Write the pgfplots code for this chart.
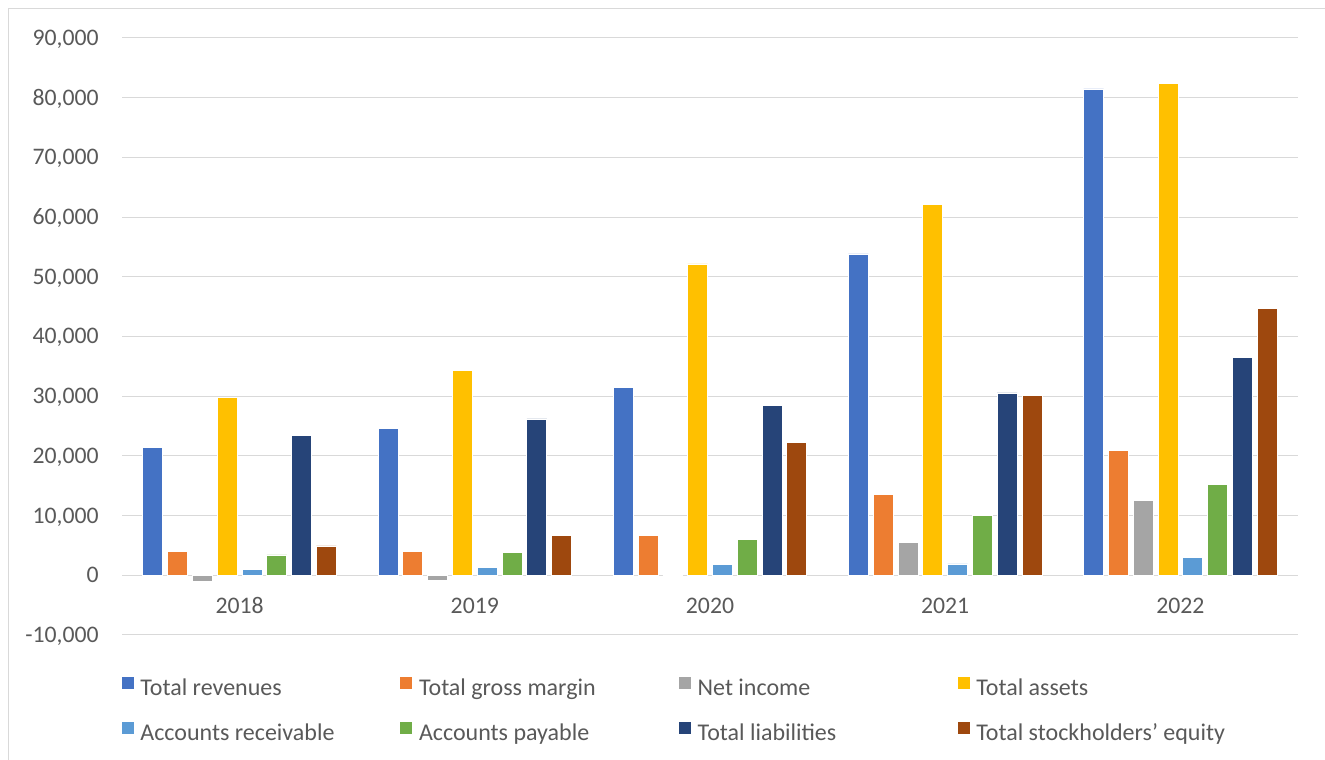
\documentclass[border=0pt]{standalone}
\usepackage{fontspec}
\setmainfont{Carlito}
\usepackage{pgfplots}
\pgfplotsset{compat=1.18}
\definecolor{cRev}{HTML}{4472C4}
\definecolor{cGM}{HTML}{ED7D31}
\definecolor{cNI}{HTML}{A5A5A5}
\definecolor{cTA}{HTML}{FFC000}
\definecolor{cAR}{HTML}{5B9BD5}
\definecolor{cAP}{HTML}{70AD47}
\definecolor{cTL}{HTML}{264478}
\definecolor{cEq}{HTML}{9E480E}
\definecolor{gridgray}{HTML}{D9D9D9}
\definecolor{tickgray}{HTML}{595959}
\begin{document}
\begin{tikzpicture}
\useasboundingbox (0,0) rectangle (993.75pt,570pt);
\draw[color=gridgray, line width=0.75pt] (6pt,-5pt) -- (6pt,563.25pt) -- (1000pt,563.25pt);
\begin{axis}[
  at={(91.5pt,93.75pt)}, anchor=south west,
  scale only axis, width=882pt, height=447.75pt,
  xmin=-0.5, xmax=4.5, ymin=-10000, ymax=90000,
  ytick={-10000,0,10000,20000,30000,40000,50000,60000,70000,80000,90000},
  xtick={0,1,2,3,4}, xticklabels={2018,2019,2020,2021,2022},
  ymajorgrids, grid style={draw=gridgray, line width=0.75pt},
  axis line style={draw=none}, major tick length=0pt,
  tick label style={font=\fontsize{17.8pt}{21pt}\selectfont, text=tickgray, inner sep=0pt, text height=11.25pt, text depth=0pt},
  yticklabel style={anchor=east, xshift=-17.25pt},
  xticklabel style={anchor=center, yshift=21.75pt},
  /pgf/number format/.cd, 1000 sep={,}, assume math mode=true, /pgfplots/.cd,
  scaled y ticks=false,
  ybar=3.6pt, bar width=15pt,
  legend columns=4,
  legend cell align=left,
  legend image code/.code={\fill[#1] (0pt,0pt) rectangle (9.75pt,9.75pt);},
  legend style={at={(-0.0011,-0.069)}, anchor=north west, draw=none, fill=none,
    inner sep=0pt, outer sep=0pt, row sep=15.5pt,
    font=\fontsize{18pt}{21pt}\selectfont, text=tickgray,
    nodes={inner sep=0pt, text height=12.5pt, text depth=3.5pt},
    /tikz/every odd column/.append style={column sep=4.5pt},
    /tikz/every even column/.append style={column sep=0pt}},
]
\addplot[fill=cRev, draw=white, line width=0.5pt] coordinates {(0,21461) (1,24578) (2,31536) (3,53823) (4,81462)};
\addlegendentry{\makebox[194.25pt][l]{Total revenues}}
\addplot[fill=cGM, draw=white, line width=0.5pt] coordinates {(0,4042) (1,4069) (2,6630) (3,13606) (4,20853)};
\addlegendentry{\makebox[194.25pt][l]{Total gross margin}}
\addplot[fill=cNI, draw=white, line width=0.5pt] coordinates {(0,-1063) (1,-775) (2,0) (3,5519) (4,12556)};
\addlegendentry{\makebox[194.25pt][l]{Net income}}
\addplot[fill=cTA, draw=white, line width=0.5pt] coordinates {(0,29740) (1,34309) (2,52148) (3,62131) (4,82338)};
\addlegendentry{Total assets}
\addplot[fill=cAR, draw=white, line width=0.5pt] coordinates {(0,949) (1,1324) (2,1886) (3,1913) (4,2952)};
\addlegendentry{Accounts receivable}
\addplot[fill=cAP, draw=white, line width=0.5pt] coordinates {(0,3405) (1,3771) (2,6051) (3,10025) (4,15255)};
\addlegendentry{Accounts payable}
\addplot[fill=cTL, draw=white, line width=0.5pt] coordinates {(0,23427) (1,26199) (2,28418) (3,30548) (4,36440)};
\addlegendentry{Total liabilities}
\addplot[fill=cEq, draw=white, line width=0.5pt] coordinates {(0,4923) (1,6618) (2,22225) (3,30189) (4,44704)};
\addlegendentry{Total stockholders’ equity}
\end{axis}
\end{tikzpicture}
\end{document}
